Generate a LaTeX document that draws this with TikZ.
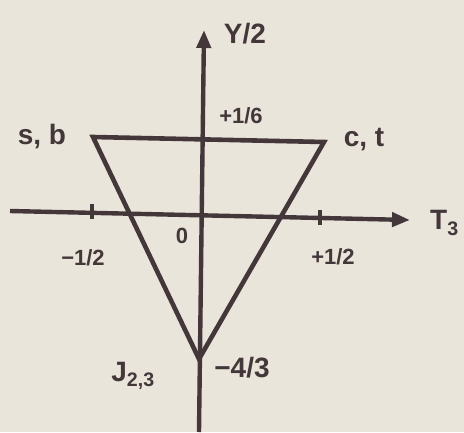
\documentclass[tikz,border=0pt]{standalone}
\usepackage{fontspec}
\setmainfont{Liberation Sans}
\usetikzlibrary{arrows.meta}
\definecolor{paper}{HTML}{EAE5DB}
\definecolor{ink}{HTML}{43373A}
\begin{document}
\begin{tikzpicture}[x=1pt,y=-1pt,
  ink line/.style={draw=ink,line width=4.6pt,line join=miter},
  axis/.style={draw=ink,line width=4.4pt,-{Triangle[length=18pt,width=14pt]}},
  lbl/.style={text=ink,font=\bfseries\fontsize{28}{30}\selectfont,inner sep=0pt},
  small/.style={text=ink,font=\bfseries\fontsize{22}{24}\selectfont,inner sep=0pt}]
\fill[paper] (0,0) rectangle (464,432);
\useasboundingbox (0,0) rectangle (464,432);
% axes
\coordinate (yb) at (199,432);
\coordinate (yt) at (204,30);
\coordinate (xl) at (10,211);
\coordinate (xr) at (410,220);
\draw[axis] (yb) -- (yt);
\draw[axis] (xl) -- (xr);
% ticks
\coordinate (tl1) at (92,204);
\coordinate (tl2) at (92,219);
\coordinate (tr1) at (320,210);
\coordinate (tr2) at (320,225);
\draw[ink line,line width=4pt] (tl1) -- (tl2);
\draw[ink line,line width=4pt] (tr1) -- (tr2);
% triangle
\coordinate (sb) at (93,137);
\coordinate (ct) at (324,142);
\coordinate (j) at (199,359);
\draw[ink line] (sb) -- (ct) -- (j) -- cycle;
% labels
\node[lbl] (ly) at (245,34) {Y/2};
\node[small] (l16) at (241,116) {+1/6};
\node[lbl] (lsb) at (42,137) {s, b};
\node[lbl] (lct) at (364,140) {c, t};
\node[lbl,anchor=west] (lt) at (430,223) {T\textsubscript{3}};
\node[small] (lm12) at (83,258) {−1/2};
\node[small] (l0) at (182,236) {0};
\node[small] (lp12) at (333,257) {+1/2};
\node[lbl] (lj) at (133,376) {J\textsubscript{2,3}};
\node[lbl] (lm43) at (242,368) {−4/3};
\end{tikzpicture}
\end{document}
